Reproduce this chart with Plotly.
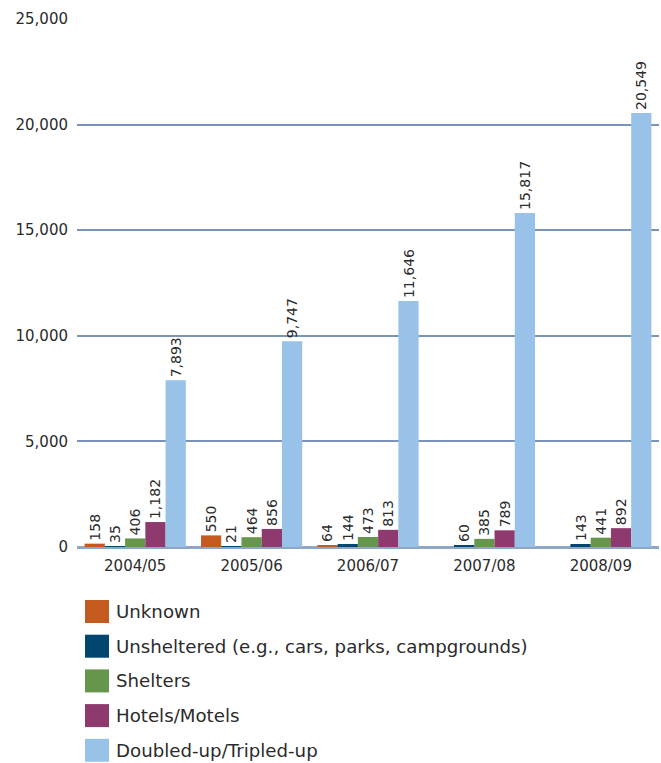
import plotly.graph_objects as go

years = ["2004/05", "2005/06", "2006/07", "2007/08", "2008/09"]
unknown = [158, 550, 64, None, None]
unsheltered = [35, 21, 144, 60, 143]
shelters = [406, 464, 473, 385, 441]
hotels = [1182, 856, 813, 789, 892]
doubled = [7893, 9747, 11646, 15817, 20549]

series_names = ["Unknown", "Unsheltered (e.g., cars, parks, campgrounds)",
                "Shelters", "Hotels/Motels", "Doubled-up/Tripled-up"]
series_values = [unknown, unsheltered, shelters, hotels, doubled]
colors = ["#C55A1E", "#00466F", "#66964B", "#8E3A6F", "#98C2E7"]

y_ticks = [0, 5000, 10000, 15000, 20000, 25000]
y_tick_labels = ["0", "5,000", "10,000", "15,000", "20,000", "25,000"]

W, H = 661, 763
ML, MR, MT, MB = 77, 2, 19, 216
PW, PH = W - ML - MR, H - MT - MB

def px_x(x):
    return (x - ML) / PW

def px_y(y):
    return (H - MB - y) / PH

FONT = "DejaVu Sans"
TXT = "#2b2b2b"

fig = go.Figure()
for name, vals, col in zip(series_names, series_values, colors):
    fig.add_trace(go.Bar(
        x=years, y=vals, name=name, marker_color=col, marker_line_width=0,
        text=[f"{v:,}" if v is not None else "" for v in vals],
        textposition="outside", textangle=-90, constraintext="none",
        textfont=dict(family=FONT, size=14, color=TXT),
        cliponaxis=False, showlegend=False,
    ))

shapes = []
annotations = []
for i, (name, col) in enumerate(zip(series_names, colors)):
    top = 600 + 34.7 * i
    shapes.append(dict(type="rect", xref="paper", yref="paper",
                       x0=px_x(85), x1=px_x(109), y0=px_y(top + 23), y1=px_y(top),
                       fillcolor=col, line_width=0))
    annotations.append(dict(xref="paper", yref="paper", x=px_x(114), y=px_y(top + 11.5),
                            text=name, showarrow=False, xanchor="left", yanchor="middle",
                            font=dict(family=FONT, size=18.2, color=TXT)))

fig.update_layout(
    width=W, height=H,
    margin=dict(l=ML, r=MR, t=MT, b=MB),
    paper_bgcolor="white", plot_bgcolor="white",
    barmode="group", bargap=0.13, bargroupgap=0,
    shapes=shapes, annotations=annotations,
    xaxis=dict(showgrid=False, showline=False, ticks="", ticklabelstandoff=8,
               tickfont=dict(family=FONT, size=15, color=TXT)),
    yaxis=dict(range=[0, 25000], tickvals=y_ticks, ticktext=y_tick_labels,
               showgrid=True, gridcolor="#7A93B8", gridwidth=1.5,
               zeroline=True, zerolinecolor="#8FA6C6", zerolinewidth=2.5,
               showline=False, ticks="", ticklabelstandoff=8,
               tickfont=dict(family=FONT, size=15, color=TXT)),
    font=dict(family=FONT, color=TXT),
)

fig.write_html("out.html", config={"displayModeBar": False},
               post_script="document.body.style.margin='0';")
